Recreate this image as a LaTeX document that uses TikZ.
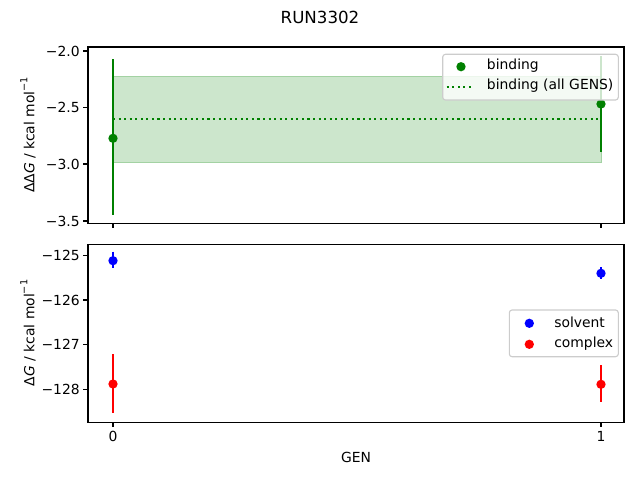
\documentclass[tikz,border=0pt]{standalone}
\usepackage{fontspec}
\setmainfont{DejaVu Sans}
\definecolor{mgreen}{HTML}{008000}
\definecolor{mblue}{HTML}{0000FF}
\definecolor{mred}{HTML}{FF0000}
\definecolor{band}{HTML}{CCE6CC}
\definecolor{bandedge}{HTML}{A3D2A3}
\definecolor{legedge}{HTML}{CCCCCC}
\newcommand{\kcal}{kcal mol\raisebox{0.9ex}{\scriptsize −1}}
\tikzset{
  axesbox/.style={draw=black, line width=0.8pt},
  tickmark/.style={draw=black, line width=0.8pt},
  ticklab/.style={font=\fontsize{10}{12}\selectfont, inner sep=0pt},
  errbar/.style={line width=1.5pt},
  dot/.style={circle, inner sep=0pt, minimum size=6.7pt},
  legbox/.style={draw=legedge, fill=white, fill opacity=0.8, line width=0.8pt, rounded corners=2pt},
  legtext/.style={font=\fontsize{10}{12}\selectfont, anchor=west, inner sep=0pt},
}
\begin{document}
\begin{tikzpicture}[x=0.72pt,y=-0.72pt]
\useasboundingbox (0,0) rectangle (640,480);
% title
\node[font=\fontsize{12}{14}\selectfont] (title) at (320,17) {RUN3302};

% ===== top axes =====
\fill[band] (113,76) rectangle (601,162.7);
\draw[bandedge, line width=0.5pt] (113,76) rectangle (601,162.7);
\coordinate (dl) at (113,119);
\coordinate (dr) at (601,119);
\draw[mgreen, line width=1.5pt, dash pattern=on 1.5pt off 2.5pt] (dl) -- (dr);
% GEN 0
\coordinate (b0t) at (113,59.3);
\coordinate (b0b) at (113,215.3);
\draw[mgreen, errbar] (b0t) -- (b0b);
\node[dot, fill=mgreen] (b0) at (113,138.3) {};
% GEN 1
\coordinate (b1t) at (601,56);
\coordinate (b1b) at (601,152);
\draw[mgreen, errbar] (b1t) -- (b1b);
\node[dot, fill=mgreen] (b1) at (601,104) {};
% frame
\draw[axesbox] (88,47) rectangle (624,223.3);
% y ticks
\foreach \yy/\lab in {51/−2.0, 107.3/−2.5, 164/−3.0, 221/−3.5}{
  \draw[tickmark] (88,\yy) -- (83.1,\yy);
  \node[ticklab, anchor=east] at (80,\yy) {\lab};
}
% x ticks
\foreach \xx in {113,601}{
  \draw[tickmark] (\xx,223.3) -- (\xx,228.2);
}
\node[rotate=90, font=\fontsize{10}{12}\selectfont] (ylab1) at (28,135) {ΔΔ\textit{G} / \kcal};
% legend top
\draw[legbox] (442.7,54.3) rectangle (618.3,100);
\node[dot, fill=mgreen] (lg1) at (461,66.7) {};
\node[legtext] (lt1) at (486.7,65.7) {binding};
\coordinate (ld1) at (446.7,86.7);
\coordinate (ld2) at (474,86.7);
\draw[mgreen, line width=1.5pt, dash pattern=on 1.5pt off 2.5pt] (ld1) -- (ld2);
\node[legtext] (lt2) at (486.7,85.7) {binding (all GENS)};

% ===== bottom axes =====
\coordinate (s0t) at (113,251.7);
\coordinate (s0b) at (113,267.7);
\draw[mblue, errbar] (s0t) -- (s0b);
\node[dot, fill=mblue] (s0) at (113,260.7) {};
\coordinate (c0t) at (113,354);
\coordinate (c0b) at (113,413.3);
\draw[mred, errbar] (c0t) -- (c0b);
\node[dot, fill=mred] (c0) at (113,384) {};
\coordinate (s1t) at (601,267.3);
\coordinate (s1b) at (601,279.3);
\draw[mblue, errbar] (s1t) -- (s1b);
\node[dot, fill=mblue] (s1) at (601,273.3) {};
\coordinate (c1t) at (601,365);
\coordinate (c1b) at (601,401.7);
\draw[mred, errbar] (c1t) -- (c1b);
\node[dot, fill=mred] (c1) at (601,384.3) {};
\draw[axesbox] (88,244.3) rectangle (624,422.3);
\foreach \yy/\lab in {255.3/−125, 300/−126, 344.7/−127, 389.3/−128}{
  \draw[tickmark] (88,\yy) -- (83.1,\yy);
  \node[ticklab, anchor=east] at (80,\yy) {\lab};
}
\foreach \xx/\lab in {113/0, 601/1}{
  \draw[tickmark] (\xx,422.3) -- (\xx,427.2);
  \node[ticklab, anchor=north] at (\xx,431) {\lab};
}
\node[font=\fontsize{10}{12}\selectfont] (xlab) at (356,457) {GEN};
\node[rotate=90, font=\fontsize{10}{12}\selectfont] (ylab2) at (28,333) {Δ\textit{G} / \kcal};
% legend bottom
\draw[legbox] (509.3,310) rectangle (618.3,356.7);
\node[dot, fill=mblue] (lg2) at (529.3,323.3) {};
\node[legtext] (lt3) at (554,322.3) {solvent};
\node[dot, fill=mred] (lg3) at (529.3,344.3) {};
\node[legtext] (lt4) at (554,343.3) {complex};
\end{tikzpicture}
\end{document}
